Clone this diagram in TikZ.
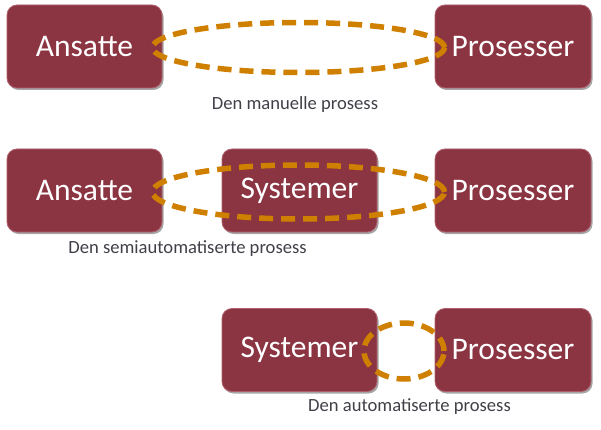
\documentclass[tikz,border=0pt]{standalone}
\usepackage{fontspec}
\setmainfont{Carlito}
\usetikzlibrary{shadows,calc}
\definecolor{boxred}{RGB}{139,52,66}
\definecolor{boxrim}{RGB}{175,95,108}
\definecolor{loopor}{RGB}{208,128,0}
\definecolor{captgray}{RGB}{64,64,72}
\tikzset{
  procbox/.style={rectangle, rounded corners=10pt, fill=boxred, draw=boxrim, line width=0.8pt,
    minimum width=155pt, minimum height=83pt, inner sep=0pt, text=white,
    font=\fontsize{31.5}{36}\selectfont,
    drop shadow={shadow xshift=1.5pt, shadow yshift=-2pt, opacity=0.35, fill=black}},
  caption/.style={text=captgray, font=\fontsize{18.6}{21}\selectfont, inner sep=0pt},
  loopline/.style={draw=loopor, line width=5.5pt, dash pattern=on 14pt off 8pt}
}
\begin{document}
\begin{tikzpicture}[x=1pt,y=1pt]
\useasboundingbox (0,0) rectangle (601,-430);
% row 1
\node[procbox] (a1) at (84.5,-46.5) {Ansatte};
\node[procbox, minimum width=156pt] (p1) at (513,-46.5) {Prosesser};
\node[caption] (c1) at (295,-105) {Den manuelle prosess};
% row 2
\node[procbox] (a2) at (84.5,-190.5) {Ansatte};
\node[procbox] (s2) at (299.5,-190.5) {Systemer};
\node[procbox, minimum width=156pt] (p2) at (513,-190.5) {Prosesser};
\node[caption] (c2) at (187.5,-249) {Den semiautomatiserte prosess};
% row 3
\node[procbox] (s3) at (299.5,-350) {Systemer};
\node[procbox, minimum width=156pt] (p3) at (513,-350) {Prosesser};
\node[caption] (c3) at (409.5,-407) {Den automatiserte prosess};
% loops
\coordinate (m1) at ($(a1.east)!0.5!(p1.west)+(0,-1)$);
\coordinate (m2) at ($(a2.east)!0.5!(p2.west)+(0,-1.5)$);
\coordinate (m3) at ($(s3.east)!0.5!(p3.west)+(-2,-1)$);
\draw[loopline] (m1) ellipse [x radius=146, y radius=25];
\draw[loopline] (m2) ellipse [x radius=146, y radius=27];
\draw[loopline] (m3) ellipse [x radius=40, y radius=28];
\end{tikzpicture}
\end{document}
